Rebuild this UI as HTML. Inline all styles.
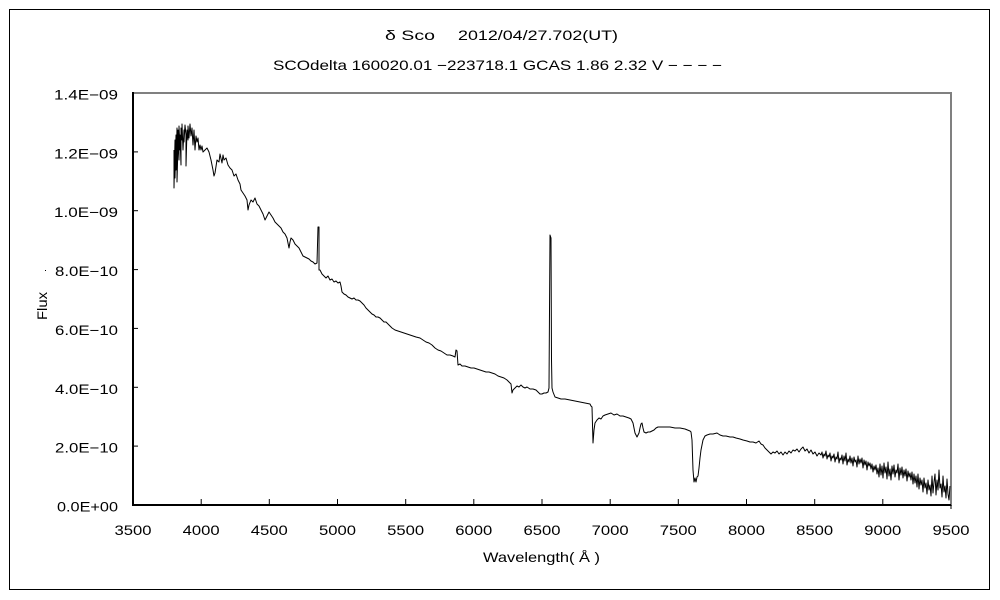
<!DOCTYPE html>
<html>
<head>
<meta charset="utf-8">
<style>
  html,body{margin:0;padding:0;background:#fff;}
  svg{display:block;}
  text{font-family:"Liberation Sans","Noto Sans CJK JP",sans-serif;font-size:14px;fill:#000;}
</style>
</head>
<body>
<svg width="1000" height="600" viewBox="0 0 1000 600" xmlns="http://www.w3.org/2000/svg">
  <rect x="0" y="0" width="1000" height="600" fill="#fff"/>
  <!-- outer border -->
  <rect x="9.5" y="9.5" width="980" height="580" fill="none" stroke="#000" stroke-width="1"/>

  <!-- titles -->
  <text x="385" y="40" textLength="50" lengthAdjust="spacingAndGlyphs">δ Sco</text>
  <text x="458" y="40" textLength="160" lengthAdjust="spacingAndGlyphs">2012/04/27.702(UT)</text>
  <text x="273" y="70" textLength="449" lengthAdjust="spacingAndGlyphs">SCOdelta 160020.01 −223718.1 GCAS 1.86 2.32 V − − − −</text>

  <!-- plot frame -->
  <line x1="133" y1="93" x2="952" y2="93" stroke="#808080" stroke-width="2"/>
  <line x1="951" y1="92" x2="951" y2="506" stroke="#808080" stroke-width="2"/>
  <line x1="133" y1="92" x2="133" y2="506" stroke="#000" stroke-width="2"/>
  <line x1="132" y1="505" x2="951" y2="505" stroke="#000" stroke-width="2"/>

  <!-- y ticks -->
  <g stroke="#000" stroke-width="1">
    <line x1="133" y1="446.1" x2="138" y2="446.1"/>
    <line x1="133" y1="387.3" x2="138" y2="387.3"/>
    <line x1="133" y1="328.4" x2="138" y2="328.4"/>
    <line x1="133" y1="269.6" x2="138" y2="269.6"/>
    <line x1="133" y1="210.7" x2="138" y2="210.7"/>
    <line x1="133" y1="151.9" x2="138" y2="151.9"/>
  </g>
  <!-- x ticks -->
  <g stroke="#000" stroke-width="1">
    <line x1="201.2" y1="499" x2="201.2" y2="505"/>
    <line x1="269.3" y1="499" x2="269.3" y2="505"/>
    <line x1="337.5" y1="499" x2="337.5" y2="505"/>
    <line x1="405.7" y1="499" x2="405.7" y2="505"/>
    <line x1="473.8" y1="499" x2="473.8" y2="505"/>
    <line x1="542" y1="499" x2="542" y2="505"/>
    <line x1="610.2" y1="499" x2="610.2" y2="505"/>
    <line x1="678.3" y1="499" x2="678.3" y2="505"/>
    <line x1="746.5" y1="499" x2="746.5" y2="505"/>
    <line x1="814.7" y1="499" x2="814.7" y2="505"/>
    <line x1="882.8" y1="499" x2="882.8" y2="505"/>
    <line x1="951" y1="505" x2="951" y2="509"/>
  </g>

  <!-- y labels -->
  <g text-anchor="end">
    <text x="118" y="511.5" textLength="61" lengthAdjust="spacingAndGlyphs">0.0E+00</text>
    <text x="118" y="452.6" textLength="63" lengthAdjust="spacingAndGlyphs">2.0E−10</text>
    <text x="118" y="393.8" textLength="63" lengthAdjust="spacingAndGlyphs">4.0E−10</text>
    <text x="118" y="334.9" textLength="63" lengthAdjust="spacingAndGlyphs">6.0E−10</text>
    <text x="118" y="276.1" textLength="63" lengthAdjust="spacingAndGlyphs">8.0E−10</text>
    <text x="118" y="217.2" textLength="64" lengthAdjust="spacingAndGlyphs">1.0E−09</text>
    <text x="118" y="158.4" textLength="64" lengthAdjust="spacingAndGlyphs">1.2E−09</text>
    <text x="118" y="99.5" textLength="64" lengthAdjust="spacingAndGlyphs">1.4E−09</text>
  </g>

  <!-- x labels -->
  <g text-anchor="middle">
    <text x="133" y="535" textLength="37" lengthAdjust="spacingAndGlyphs">3500</text>
    <text x="201.2" y="535" textLength="37" lengthAdjust="spacingAndGlyphs">4000</text>
    <text x="269.3" y="535" textLength="37" lengthAdjust="spacingAndGlyphs">4500</text>
    <text x="337.5" y="535" textLength="37" lengthAdjust="spacingAndGlyphs">5000</text>
    <text x="405.7" y="535" textLength="37" lengthAdjust="spacingAndGlyphs">5500</text>
    <text x="473.8" y="535" textLength="37" lengthAdjust="spacingAndGlyphs">6000</text>
    <text x="542" y="535" textLength="37" lengthAdjust="spacingAndGlyphs">6500</text>
    <text x="610.2" y="535" textLength="37" lengthAdjust="spacingAndGlyphs">7000</text>
    <text x="678.3" y="535" textLength="37" lengthAdjust="spacingAndGlyphs">7500</text>
    <text x="746.5" y="535" textLength="37" lengthAdjust="spacingAndGlyphs">8000</text>
    <text x="814.7" y="535" textLength="37" lengthAdjust="spacingAndGlyphs">8500</text>
    <text x="882.8" y="535" textLength="37" lengthAdjust="spacingAndGlyphs">9000</text>
    <text x="951" y="535" textLength="37" lengthAdjust="spacingAndGlyphs">9500</text>
  </g>

  <!-- axis titles -->
  <text x="483" y="562" textLength="117" lengthAdjust="spacingAndGlyphs">Wavelength( Å )</text>
  <text transform="translate(47,306) rotate(-90)" text-anchor="middle" textLength="28" lengthAdjust="spacingAndGlyphs">Flux</text>
  <rect x="45" y="270" width="1" height="1" fill="#000"/>

  <!-- spectrum -->
  <polyline fill="none" stroke="#000" stroke-width="1" stroke-linejoin="round" points="
174,150 174,188 175,140 175,178 176,135 176,170 177,128 177,182 178,145 178,130 179,160 179,126 180,150 180,135 181,165 181,128 182,140 182,124 183,150 184,130 184,142 185,125 186,135 186,166 187,130 188,140 188,126 189,138 190,124 191,136 192,128 193,145 194,130 195,150 196,136 197,142 198,138 199,150 200,145 201,150 202,146 203,152 205,150 207,148 209,152 211,160 213,170 214,176 215,173 217,160 219,162 220,154 222,163 223,155 224,160 226,158 228,165 230,168 232,170 234,176 236,174 238,180 240,184 241,190 243,193 245,196 247,200 248,210 249,205 251,200 253,202 255,198 257,204 259,206 261,210 263,214 265,220 267,216 269,212 271,215 273,218 275,222 277,224 279,226 281,228 283,232 285,234 287,238 289,248 290,242 291,238 293,240 295,244 297,246 299,248 301,252 303,256 305,257 307,258 309,259 311,261 313,262 315,264 317,263 318,227 319,227 319,270 320,270 322,274 324,276 326,278 328,276 330,280 332,279 334,282 336,281 338,283 340,282 341,286 342,292 344,294 346,295 348,297 350,298 352,299 354,298 356,300 358,300 360,301 362,303 364,305 366,308 368,310 370,312 372,314 374,315 376,317 378,317 380,318 382,320 384,322 386,322 388,324 390,326 392,328 395,330 398,331 401,332 404,333 407,334 410,335 413,336 416,337 420,338 423,340 426,342 429,343 432,345 435,348 438,350 441,351 444,353 447,355 450,355 453,356 455,357 456,350 457,351 458,365 460,364 462,366 465,366 468,367 471,368 474,368 477,369 480,370 483,371 486,372 489,372 492,373 495,374 498,376 501,377 504,378 507,380 509,382 511,384 512,393 513,390 515,388 517,386 519,387 521,385 523,387 525,388 527,387 530,389 533,389 536,390 538,392 540,394 542,394 544,393 546,393 548,392 549,388 550,235 551,238 551.5,360 552,388 553,392 555,397 558,398 561,399 565,399 570,400 575,401 580,402 585,403 590,404 591,406 592,407 593,443 594,430 595,423 597,420 599,418 601,419 603,416 605,415 608,414 611,413 614,415 617,414 620,416 623,416 626,417 629,418 631,419 633,423 634,428 635,433 637,437 639,433 640,428 641,424 642,423 643,428 644,432 646,433 648,432 650,432 652,431 654,430 656,428 658,427 662,427 666,427 670,427 675,428 680,428 685,429 690,431 691,432 692,440 693,470 694,482 695,478 696,482 697,477 698,476 699,468 700,458 701,450 702,445 703,440 705,436 707,435 710,434 713,434 717,433 720,435 723,436 726,436 730,437 733,437 736,438 740,439 743,440 747,441 750,442 753,442 756,443 759,441 761,444 763,445 765,448 767,450 769,452 771,454 773,452 775,453 777,451 779,454 781,452 783,455 785,452 787,454 789,451 791,453 793,450 795,451 797,449 799,452 801,449 803,447 805,451 807,449 809,453 811,450 813,454 815,452 817,456 819,453 
821,455 822,452 823,458 824,454 825,456 826,451 827,459 828,455 829,457 830,453 831,461 832,456 833,458 834,454 835,462 836,457 837,459 838,452 839,463 840,458 841,460 842,455 843,464 844,456 845,461 846,453 847,465 848,459 849,462 850,456 851,463 852,458 853,466 854,457 855,462 856,460 857,467 858,456 859,464 860,459 861,463 862,458 863,468 864,460 865,465 866,461 867,470 868,462 869,466 870,463 871,469 872,464 873,472 874,466 875,470 876,465 877,474 878,468 879,477 880,464 881,475 882,466 883,478 884,463 885,473 886,467 887,479 888,462 889,476 890,469 891,480 892,466 893,474 894,465 895,477 896,470 897,473 898,464 899,480 900,468 901,475 902,467 903,478 904,470 905,476 906,469 907,481 908,471 909,477 910,473 911,480 912,472 913,484 914,474 915,483 916,476 917,487 918,474 919,489 920,478 921,485 922,480 923,492 924,478 925,488 926,483 927,494 928,480 929,490 930,485 931,496 932,476 933,493 934,482 935,474 936,495 937,480 938,490 939,470 940,488 941,484 942,497 943,476 944,492 945,486 946,498 947,479 948,494 949,500 950,486"/>
</svg>
</body>
</html>
